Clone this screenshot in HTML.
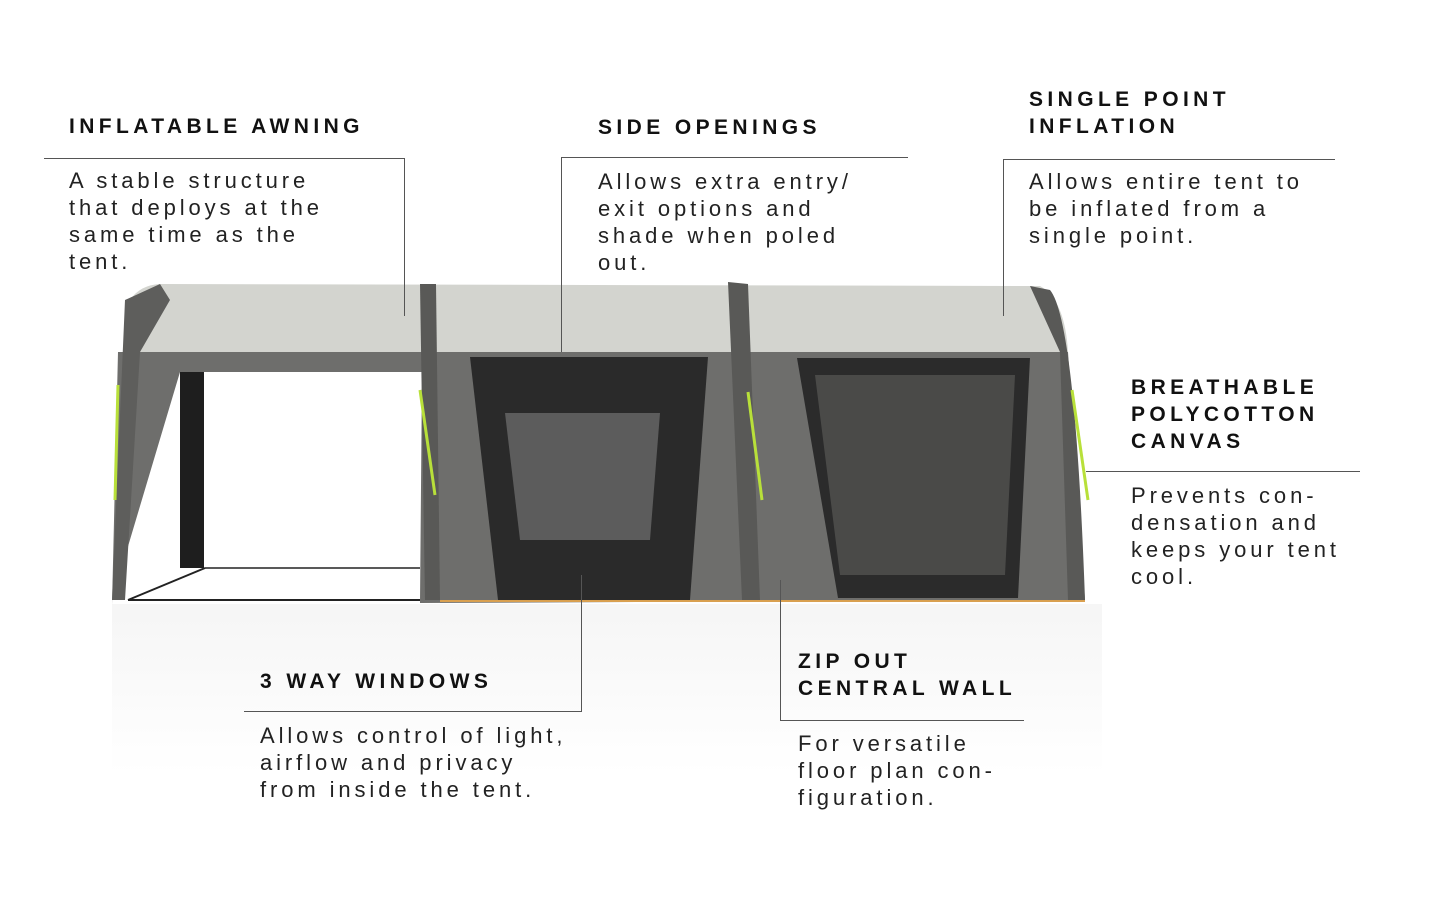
<!DOCTYPE html>
<html><head><meta charset="utf-8"><style>
body{margin:0;background:#fff;width:1445px;height:913px;overflow:hidden;position:relative;font-family:"Liberation Sans",sans-serif}
.h{position:absolute;font-weight:bold;font-size:21px;letter-spacing:4.4px;line-height:27px;color:#111}
.t{position:absolute;font-size:22px;letter-spacing:3.9px;line-height:27px;color:#222}
svg{position:absolute;left:0;top:0}
</style></head><body>
<svg width="1445" height="913">
<defs><linearGradient id="rf" x1="0" y1="0" x2="0" y2="1"><stop offset="0" stop-color="#e4e4e4"/><stop offset="1" stop-color="#fff"/></linearGradient></defs>
<rect x="112" y="604" width="990" height="170" fill="url(#rf)" opacity="0.35"/>
<path d="M130 300 Q140 285 160 284 L1040 286 Q1065 300 1068 352 L135 352 Z" fill="#d3d4cf"/>
<path d="M135 352 L1068 352 L1085 600 L420 603 L422 372 L180 372 L112 600 L112 605 L118 352 Z" fill="#6e6e6c"/>
<path d="M112 600 L125 300 L160 284 L170 300 L140 352 L125 600 Z" fill="#5e5e5c"/>
<rect x="180" y="372" width="24" height="196" fill="#1e1e1e"/>
<path d="M420 284 L436 284 L440 600 L425 600 Z" fill="#595957"/>
<path d="M728 282 L748 284 L760 600 L742 600 Z" fill="#595957"/>
<path d="M1030 286 L1050 290 Q1075 320 1085 600 L1068 600 L1060 352 Z" fill="#595957"/>
<path d="M470 357 L708 357 L690 600 L498 600 Z" fill="#2a2a2a"/>
<path d="M505 413 L660 413 L650 540 L520 540 Z" fill="#5c5c5c"/>
<path d="M797 358 L1030 358 L1018 598 L838 598 Z" fill="#2b2b2b"/>
<path d="M815 375 L1015 375 L1005 575 L840 575 Z" fill="#4a4a48"/>
<line x1="440" y1="601" x2="1085" y2="601" stroke="#d9a050" stroke-width="2"/>
<line x1="128" y1="600" x2="420" y2="600" stroke="#222" stroke-width="2"/>
<line x1="128" y1="600" x2="205" y2="568" stroke="#222" stroke-width="2"/>
<line x1="205" y1="568" x2="420" y2="568" stroke="#222" stroke-width="1.5"/>
<g stroke="#b8e03a" stroke-width="3" fill="none">
<path d="M118 385 L115 500"/><path d="M420 390 L435 495"/><path d="M748 392 L762 500"/><path d="M1072 390 L1088 500"/>
</g>
<g stroke="#555" stroke-width="1" fill="none">
<path d="M44 158.5 H404.5 V316"/>
<path d="M908 157.5 H561.5 V352"/>
<path d="M1335 159.5 H1003.5 V316"/>
<path d="M1360 471.5 H1086"/>
<path d="M244 711.5 H581.5 V575"/>
<path d="M1024 720.5 H780.5 V580"/>
</g>
</svg>
<div class="h" style="left:69px;top:113px">INFLATABLE AWNING</div>
<div class="t" style="left:69px;top:167px">A stable structure<br>that deploys at the<br>same time as the<br>tent.</div>
<div class="h" style="left:598px;top:114px">SIDE OPENINGS</div>
<div class="t" style="left:598px;top:168px">Allows extra entry/<br>exit options and<br>shade when poled<br>out.</div>
<div class="h" style="left:1029px;top:86px">SINGLE POINT<br>INFLATION</div>
<div class="t" style="left:1029px;top:168px">Allows entire tent to<br>be inflated from a<br>single point.</div>
<div class="h" style="left:1131px;top:374px">BREATHABLE<br>POLYCOTTON<br>CANVAS</div>
<div class="t" style="left:1131px;top:482px">Prevents con-<br>densation and<br>keeps your tent<br>cool.</div>
<div class="h" style="left:260px;top:668px">3 WAY WINDOWS</div>
<div class="t" style="left:260px;top:722px">Allows control of light,<br>airflow and privacy<br>from inside the tent.</div>
<div class="h" style="left:798px;top:648px">ZIP OUT<br>CENTRAL WALL</div>
<div class="t" style="left:798px;top:730px">For versatile<br>floor plan con-<br>figuration.</div>
</body></html>
